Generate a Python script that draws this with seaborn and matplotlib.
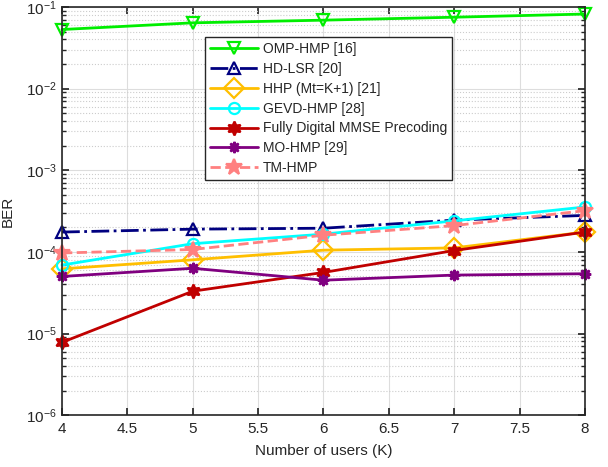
import matplotlib
matplotlib.use("Agg")
import matplotlib.pyplot as plt
import seaborn as sns
import pandas as pd
import numpy as np
from matplotlib.ticker import LogLocator, NullFormatter

users = [4, 5, 6, 7, 8]
omp_hmp = [0.053, 0.064, 0.069, 0.075, 0.082]
hd_lsr = [1.75e-4, 1.9e-4, 1.95e-4, 2.45e-4, 2.8e-4]
hhp = [6.2e-5, 8.0e-5, 1.05e-4, 1.12e-4, 1.75e-4]
gevd_hmp = [6.9e-5, 1.26e-4, 1.65e-4, 2.4e-4, 3.55e-4]
fd_mmse = [7.8e-6, 3.3e-5, 5.6e-5, 1.04e-4, 1.75e-4]
mo_hmp = [5.0e-5, 6.3e-5, 4.5e-5, 5.2e-5, 5.4e-5]
tm_hmp = [9.7e-5, 1.07e-4, 1.6e-4, 2.1e-4, 3.2e-4]

labels = ["OMP-HMP [16]", "HD-LSR [20]", "HHP (Mt=K+1) [21]", "GEVD-HMP [28]",
          "Fully Digital MMSE Precoding", "MO-HMP [29]", "TM-HMP"]
series = [omp_hmp, hd_lsr, hhp, gevd_hmp, fd_mmse, mo_hmp, tm_hmp]

styles = [
    dict(color="#00ee00", linestyle="-", marker="v", mfc="none", ms=9),
    dict(color="#000080", linestyle="-.", marker="^", mfc="none", ms=9),
    dict(color="#ffbf00", linestyle="-", marker="D", mfc="none", ms=10),
    dict(color="#00ffff", linestyle="-", marker="o", mfc="none", ms=8),
    dict(color="#c00000", linestyle="-", marker=(6, 1, 0), mfc="#c00000", ms=10),
    dict(color="#800080", linestyle="-", marker=(8, 1, 0), mfc="#800080", ms=8),
    dict(color="#ff8080", linestyle="--", marker="*", mfc="#ff8080", ms=12),
]

sns.set_theme(style="white")
plt.rcParams['font.family'] = ['Liberation Sans', 'DejaVu Sans']

fig = plt.figure(figsize=(6.08, 4.67), dpi=100)
ax = fig.add_axes([0.102, 0.111, 0.86, 0.874])

for lab, vals, st in zip(labels, series, styles):
    df = pd.DataFrame({"K": users, "BER": vals})
    sns.lineplot(data=df, x="K", y="BER", ax=ax, label=lab, color=st["color"],
                 linestyle=st["linestyle"], marker=st["marker"],
                 markerfacecolor=st["mfc"], markeredgecolor=st["color"],
                 markeredgewidth=1.6, markersize=st["ms"], linewidth=2,
                 clip_on=False)

ax.set_yscale("log")
ax.set_xlim(4, 8)
ax.set_ylim(1e-6, 1e-1)
ax.set_xticks([4, 4.5, 5, 5.5, 6, 6.5, 7, 7.5, 8])
ax.set_xticklabels(["4", "4.5", "5", "5.5", "6", "6.5", "7", "7.5", "8"])
ax.yaxis.set_major_locator(LogLocator(base=10, numticks=10))
ax.yaxis.set_minor_locator(LogLocator(base=10, subs=np.arange(2, 10), numticks=10))
ax.yaxis.set_minor_formatter(NullFormatter())
ax.grid(True, which="major", color="#dddddd", linestyle="-", linewidth=0.8)
ax.grid(True, which="minor", axis="y", color="#cccccc", linestyle=":", linewidth=0.8)
ax.tick_params(axis="both", which="major", direction="in", length=5, labelsize=11,
               colors="#262626", top=True, right=True, left=True, bottom=True)
ax.tick_params(axis="x", which="major", pad=5)
ax.tick_params(axis="y", which="minor", direction="in", length=3, left=True, right=True)
for s in ax.spines.values():
    s.set_color("#262626")
    s.set_linewidth(1.2)
ax.set_xlabel("Number of users (K)", fontsize=11, color="#262626", labelpad=6)
ax.set_ylabel("BER", fontsize=11, color="#262626", labelpad=8)

leg = ax.legend(loc="upper left", bbox_to_anchor=(0.273, 0.926), borderaxespad=0,
                fontsize=10, frameon=True, fancybox=False, edgecolor="#262626",
                framealpha=1, handlelength=3.5, labelspacing=0.42, borderpad=0.35,
                handletextpad=0.35)
leg.get_frame().set_linewidth(1.0)

fig.savefig("out.png", dpi=100)
